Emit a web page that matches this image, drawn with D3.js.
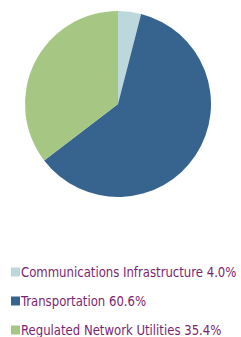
<!DOCTYPE html>
<html>
<head>
<meta charset="utf-8">
<style>
  body { margin: 0; background: #fff; }
  svg { display: block; }
  .legend text { font-family: "DejaVu Sans Condensed", "DejaVu Sans", sans-serif; font-size: 14px; fill: #7b1f73; }
</style>
</head>
<body>
<svg width="241" height="337"></svg>
<script src="https://d3js.org/d3.v7.min.js"></script>
<script>

var categories = ["Communications Infrastructure", "Transportation", "Regulated Network Utilities"];
var values = [4.0, 60.6, 35.4];
var colors = ["#bdd8dd", "#36648f", "#a6c784"];

var svg = d3.select("svg"),
    cx = 118, cy = 104, radius = 93;

var pie = d3.pie().sort(null).value(function(d) { return d; });
var arc = d3.arc().innerRadius(0).outerRadius(radius);

var g = svg.append("g").attr("transform", "translate(" + cx + "," + cy + ")");

g.selectAll("path")
    .data(pie(values))
  .enter().append("path")
    .attr("fill", function(d, i) { return colors[i]; })
    .attr("d", arc);

// legend rows
var y = d3.scalePoint().domain(categories).range([272, 330]);

var legend = svg.append("g").attr("class", "legend")
  .selectAll("g")
    .data(categories)
  .enter().append("g")
    .attr("transform", function(d) { return "translate(11," + y(d) + ")"; });

legend.append("rect")
    .attr("y", -4.5)
    .attr("width", 9)
    .attr("height", 9)
    .attr("fill", function(d, i) { return colors[i]; });

// squeeze the condensed font a bit so it runs as narrow as the original
legend.append("text")
    .attr("transform", "translate(10,0) scale(0.93,1)")
    .attr("dy", "0.36em")
    .text(function(d, i) { return d + " " + values[i].toFixed(1) + "%"; });

</script>
</body>
</html>
